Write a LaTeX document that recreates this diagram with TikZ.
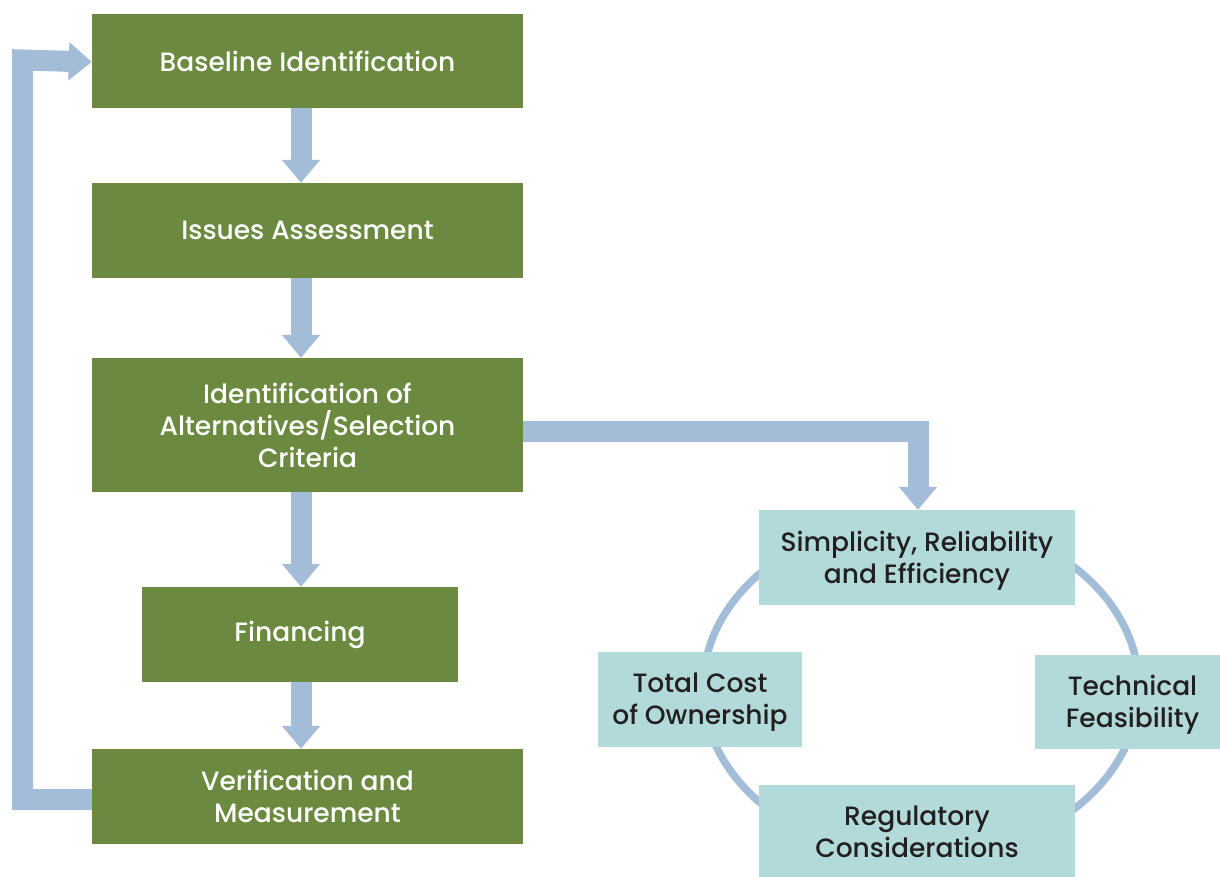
\documentclass[tikz,border=0pt]{standalone}
\usepackage{fontspec}
\setmainfont{Poppins Medium}
\usetikzlibrary{arrows.meta,shapes.geometric}
\definecolor{stepgreen}{RGB}{107,138,63}
\definecolor{flowblue}{RGB}{163,188,216}
\definecolor{critteal}{RGB}{179,218,218}
\definecolor{darktext}{RGB}{35,31,32}
\begin{document}
\begin{tikzpicture}[x=1pt,y=-1pt,
  stepbox/.style={fill=stepgreen, text=white, inner sep=0pt, align=center,
    font=\fontsize{26.5}{32}\selectfont},
  critbox/.style={fill=critteal, inner sep=0pt},
  crittext/.style={text=darktext, inner sep=0pt, align=center, yshift=-3pt,
    font=\fontsize{26.5}{32}\selectfont},
  flow/.style={draw=flowblue, line width=21pt, line cap=butt, line join=miter,
    -{Triangle[width=37pt,length=23pt]}},
  ring/.style={draw=flowblue, line width=7.5pt}
]
\useasboundingbox (0,0) rectangle (1220,877);

% process steps
\node[stepbox, minimum width=431pt, minimum height=94pt] (base) at (307.5,61) {Baseline Identification};
\node[stepbox, minimum width=431pt, minimum height=95pt] (issue) at (307.5,230.5) {Issues Assessment};
\node[stepbox, minimum width=431pt, minimum height=134pt] (alt) at (307.5,425) {Identification of\\Alternatives/Selection\\Criteria};
\node[stepbox, minimum width=316pt, minimum height=95pt] (fin) at (300,634.5) {Financing};
\node[stepbox, minimum width=431pt, minimum height=95pt] (verif) at (307.5,796.5) {Verification and\\Measurement};

% vertical flow arrows
\coordinate (ax) at (301,0);
\draw[flow] (base.south -| ax) -- (issue.north -| ax);
\draw[flow] (issue.south -| ax) -- (alt.north -| ax);
\draw[flow] (alt.south -| ax) -- (fin.north -| ax);
\draw[flow] (fin.south -| ax) -- (verif.north -| ax);

% feedback loop
\coordinate (loop) at (22.5,60);
\draw[flow] ([yshift=-3pt]verif.west) -| (loop) -- ([yshift=-1pt]base.west);

% selection criteria cycle
\draw[ring] (921,688) ellipse [x radius=218, y radius=170];
\node[critbox, minimum width=316pt, minimum height=95pt] (simp) at (917,557.5) {};
\node[critbox, minimum width=204pt, minimum height=95pt] (tco) at (700,699.5) {};
\node[critbox, minimum width=185pt, minimum height=94pt] (tech) at (1127.5,702) {};
\node[critbox, minimum width=316pt, minimum height=92pt] (reg) at (917,831) {};
\node[crittext] (simp-t) at (simp) {Simplicity, Reliability\\and Efficiency};
\node[crittext] (tco-t) at (tco) {Total Cost\\of Ownership};
\node[crittext, xshift=5pt] (tech-t) at (tech) {Technical\\Feasibility};
\node[crittext, yshift=2pt] (reg-t) at (reg) {Regulatory\\Considerations};

% branch to the criteria
\draw[flow] ([yshift=-6pt]alt.east) -| ([xshift=1pt]simp.north);
\end{tikzpicture}
\end{document}
